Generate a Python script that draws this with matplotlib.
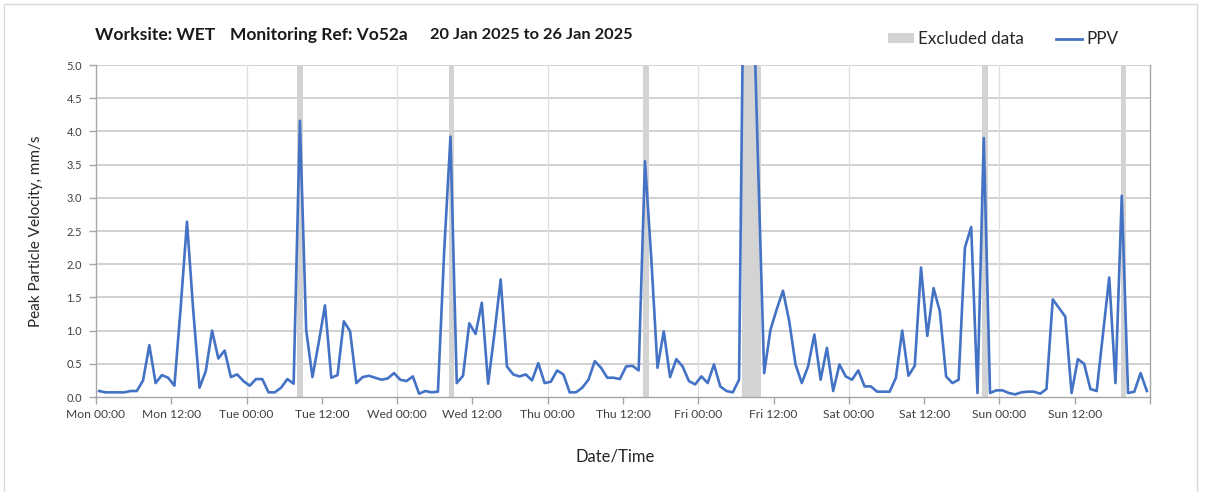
import matplotlib
matplotlib.use("Agg")
import matplotlib.pyplot as plt
from matplotlib.patches import Rectangle, Patch
from matplotlib.lines import Line2D
import pandas as pd

# ---------------- data ----------------
start_time = "2025-01-20 00:30"
n_points = 168
ppv_mon = [0.09, 0.07, 0.07, 0.07, 0.07, 0.09, 0.09, 0.25, 0.78, 0.21, 0.33, 0.29,
           0.17, 1.35, 2.64, 1.30, 0.14, 0.39, 1.00, 0.58, 0.70, 0.30, 0.34, 0.24]
ppv_tue = [0.17, 0.27, 0.27, 0.07, 0.07, 0.14, 0.27, 0.20, 4.16, 1.01, 0.30, 0.82,
           1.38, 0.29, 0.33, 1.14, 0.99, 0.21, 0.30, 0.32, 0.29, 0.26, 0.28, 0.36]
ppv_wed = [0.26, 0.24, 0.31, 0.05, 0.09, 0.07, 0.08, 2.20, 3.92, 0.21, 0.32, 1.11,
           0.95, 1.42, 0.20, 0.95, 1.77, 0.46, 0.34, 0.31, 0.34, 0.25, 0.51, 0.21]
ppv_thu = [0.23, 0.40, 0.34, 0.07, 0.07, 0.14, 0.26, 0.54, 0.44, 0.29, 0.29, 0.27,
           0.46, 0.47, 0.40, 3.55, 2.10, 0.44, 0.99, 0.30, 0.57, 0.46, 0.24, 0.19]
ppv_fri = [0.31, 0.21, 0.49, 0.16, 0.09, 0.07, 0.26, 9.00, 7.00, 3.60, 0.36, 1.01,
           1.32, 1.60, 1.14, 0.49, 0.21, 0.46, 0.94, 0.26, 0.74, 0.09, 0.49, 0.31]
ppv_sat = [0.26, 0.40, 0.16, 0.16, 0.08, 0.08, 0.08, 0.29, 1.00, 0.32, 0.47, 1.95,
           0.92, 1.64, 1.29, 0.31, 0.21, 0.26, 2.25, 2.56, 0.06, 3.90, 0.06, 0.10]
ppv_sun = [0.10, 0.06, 0.04, 0.07, 0.08, 0.08, 0.05, 0.12, 1.47, 1.34, 1.21, 0.06,
           0.57, 0.50, 0.12, 0.09, 0.95, 1.80, 0.21, 3.03, 0.06, 0.08, 0.36, 0.09]
ppv = ppv_mon + ppv_tue + ppv_wed + ppv_thu + ppv_fri + ppv_sat + ppv_sun

excluded_start = ["2025-01-21 08:00", "2025-01-22 08:12", "2025-01-23 15:12",
                  "2025-01-24 07:00", "2025-01-25 21:18", "2025-01-26 19:18"]
excluded_end = ["2025-01-21 09:00", "2025-01-22 09:06", "2025-01-23 16:12",
                "2025-01-24 10:00", "2025-01-25 22:12", "2025-01-26 20:12"]

tick_times = pd.date_range("2025-01-20 00:00", periods=15, freq="12h")
tick_labels = ["Mon 00:00", "Mon 12:00", "Tue 00:00", "Tue 12:00", "Wed 00:00",
               "Wed 12:00", "Thu 00:00", "Thu 12:00", "Fri 00:00", "Fri 12:00",
               "Sat 00:00", "Sat 12:00", "Sun 00:00", "Sun 12:00", ""]
y_ticks = [0.0, 0.5, 1.0, 1.5, 2.0, 2.5, 3.0, 3.5, 4.0, 4.5, 5.0]

title_parts = ["Worksite: WET", "Monitoring Ref: Vo52a", "20 Jan 2025 to 26 Jan 2025"]

times = pd.date_range(start_time, periods=n_points, freq="h")

# ---------------- figure ----------------
FONT = "Lato"
W, H = 1208, 492
fig = plt.figure(figsize=(W / 100, H / 100), dpi=100)
fig.patch.set_facecolor("white")

# outer border
fig.patches.append(Rectangle((4 / W, -0.05), (1197 - 4) / W, 1.05 - 4 / H,
                             transform=fig.transFigure, fill=False,
                             edgecolor="#d9d9d9", linewidth=1.0))

ax = fig.add_axes([96 / W, 1 - 397 / H, (1150 - 96) / W, (397 - 65) / H])

for s, e in zip(excluded_start, excluded_end):
    ax.axvspan(pd.Timestamp(s), pd.Timestamp(e), color="#d3d3d3", lw=0, zorder=1.5)

ax.plot(times, ppv, color="#4472C4", lw=1.9, zorder=3, solid_joinstyle="round")

ax.set_xlim(tick_times[0], tick_times[-1])
ax.set_ylim(0, 5)
ax.set_yticks(y_ticks)
ax.set_yticklabels([f"{v:.1f}" for v in y_ticks])
ax.set_xticks(tick_times)
ax.set_xticklabels(tick_labels)

# grid
for v in y_ticks[1:]:
    ax.axhline(v, color="#c9c9c9", lw=1.2, zorder=1)
for t in tick_times[2:-1:2]:
    ax.axvline(t, color="#dedede", lw=0.9, zorder=1)

ax.spines["top"].set_visible(False)
for side in ["left", "bottom", "right"]:
    ax.spines[side].set_color("#a6a6a6")
    ax.spines[side].set_linewidth(1.0)

ax.tick_params(axis="both", colors="#a6a6a6", labelcolor="#404040",
               direction="out", length=5, width=1.0)
ax.tick_params(axis="y", labelsize=8, pad=5)
ax.tick_params(axis="x", labelsize=8.7, pad=4)
for lab in ax.get_xticklabels() + ax.get_yticklabels():
    lab.set_fontfamily(FONT)

# axis titles
fig.text(36 / W, 1 - 231 / H, "Peak Particle Velocity, mm/s", fontsize=11, family=FONT,
         color="#262626", rotation=90, ha="center", va="center")
fig.text(615 / W, 1 - 456.5 / H, "Date/Time", fontsize=12, family=FONT,
         color="#262626", ha="center", va="center")

# title parts
title_x = [95, 230, 430]
title_sizes = [12.6, 12.5, 11.8]
for x, txt, fs in zip(title_x, title_parts, title_sizes):
    fig.text(x / W, 1 - 35 / H, txt, fontsize=fs, fontweight="bold", family=FONT,
             ha="left", va="center", color="#1a1a1a")

# legend
handles = [Patch(facecolor="#d3d3d3", edgecolor="none", label="Excluded data"),
           Line2D([0], [0], color="#4472C4", lw=2, label="PPV")]
leg = fig.legend(handles=handles, loc="center left", bbox_to_anchor=(888 / W, 1 - 39 / H),
                 ncol=2, frameon=False, prop={"family": FONT, "size": 12.3},
                 handlelength=1.5, handleheight=0.45, handletextpad=0.25,
                 columnspacing=1.9, borderpad=0, borderaxespad=0)
for t in leg.get_texts():
    t.set_color("#262626")

fig.savefig("out.png", dpi=100)
